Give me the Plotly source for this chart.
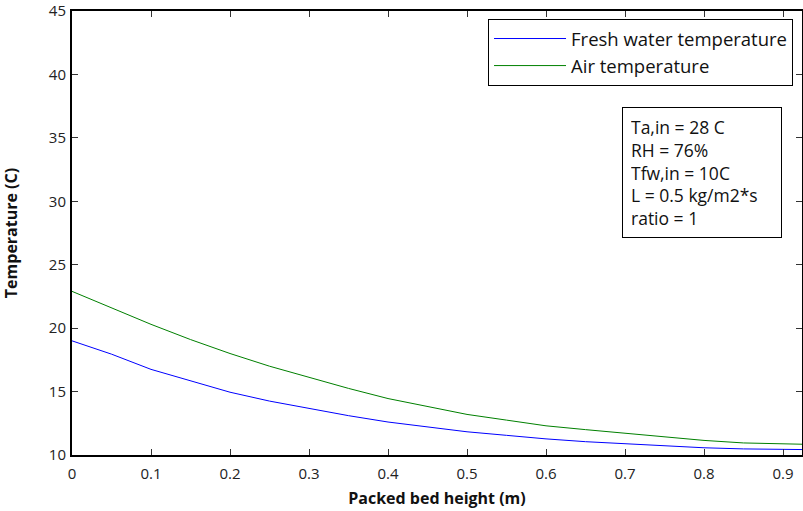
import plotly.graph_objects as go

height_m = [0, 0.05, 0.1, 0.15, 0.2, 0.25, 0.3, 0.35, 0.4, 0.45, 0.5, 0.55, 0.6, 0.65, 0.7, 0.75, 0.8, 0.85, 0.9, 0.924]
fresh_water_temp = [19.0, 17.95, 16.75, 15.85, 14.95, 14.25, 13.65, 13.1, 12.6, 12.2, 11.83, 11.55, 11.27, 11.05, 10.9, 10.72, 10.57, 10.48, 10.43, 10.43]
air_temp = [22.9, 21.6, 20.3, 19.1, 18.0, 17.0, 16.1, 15.25, 14.45, 13.8, 13.2, 12.75, 12.3, 12.0, 11.7, 11.4, 11.15, 10.95, 10.85, 10.85]

x_ticks = [0, 0.1, 0.2, 0.3, 0.4, 0.5, 0.6, 0.7, 0.8, 0.9]
y_ticks = [10, 15, 20, 25, 30, 35, 40, 45]

info_lines = ["Ta,in = 28 C", "RH = 76%", "Tfw,in = 10C", "L = 0.5 kg/m2*s", "ratio = 1"]

FONT = "Open Sans"

fig = go.Figure()
fig.add_trace(go.Scatter(x=height_m, y=fresh_water_temp, mode="lines",
                         name="Fresh water temperature", legendgroup="fw",
                         line=dict(color="#0000ff", width=1)))
fig.add_trace(go.Scatter(x=height_m, y=air_temp, mode="lines",
                         name="Air temperature", legendgroup="air",
                         line=dict(color="#008000", width=1)))

axis_common = dict(showline=True, linecolor="black", linewidth=2, mirror="ticks",
                   ticks="inside", ticklen=6, tickcolor="#333333", tickwidth=1,
                   showgrid=False, zeroline=False, ticklabeloverflow="allow",
                   tickfont=dict(family=FONT, size=15, color="#222222"))

fig.update_xaxes(range=[0, 0.924], tickvals=x_ticks,
                 ticktext=[f"{v:g}" for v in x_ticks], ticklabelstandoff=4,
                 title=dict(text="<b>Packed bed height (m)</b>",
                            font=dict(family=FONT, size=16, color="#111111"), standoff=11),
                 **axis_common)
fig.update_yaxes(range=[10, 45], tickvals=y_ticks, ticklabelstandoff=1,
                 title=dict(text="<b>Temperature (C)</b>",
                            font=dict(family=FONT, size=16, color="#111111"), standoff=28),
                 automargin=False,
                 **axis_common)

fig.add_annotation(xref="paper", yref="paper", x=0.9726, y=0.4887,
                   xanchor="right", yanchor="bottom", align="left",
                   width=142, height=113,
                   text="<br>".join(info_lines), showarrow=False,
                   font=dict(family=FONT, size=17.5, color="#111111"),
                   bordercolor="black", borderwidth=1, borderpad=8, bgcolor="white")

fig.update_layout(
    width=803, height=511,
    margin=dict(l=72, r=1, t=11, b=56),
    paper_bgcolor="white", plot_bgcolor="white",
    font=dict(family=FONT, color="#111111"),
    legend=dict(x=0.9877, y=0.982, xanchor="right", yanchor="top",
                bordercolor="black", borderwidth=1, bgcolor="white",
                font=dict(family=FONT, size=18.5, color="#111111"),
                itemwidth=72, tracegroupgap=0),
)

fig.write_html("out.html")
